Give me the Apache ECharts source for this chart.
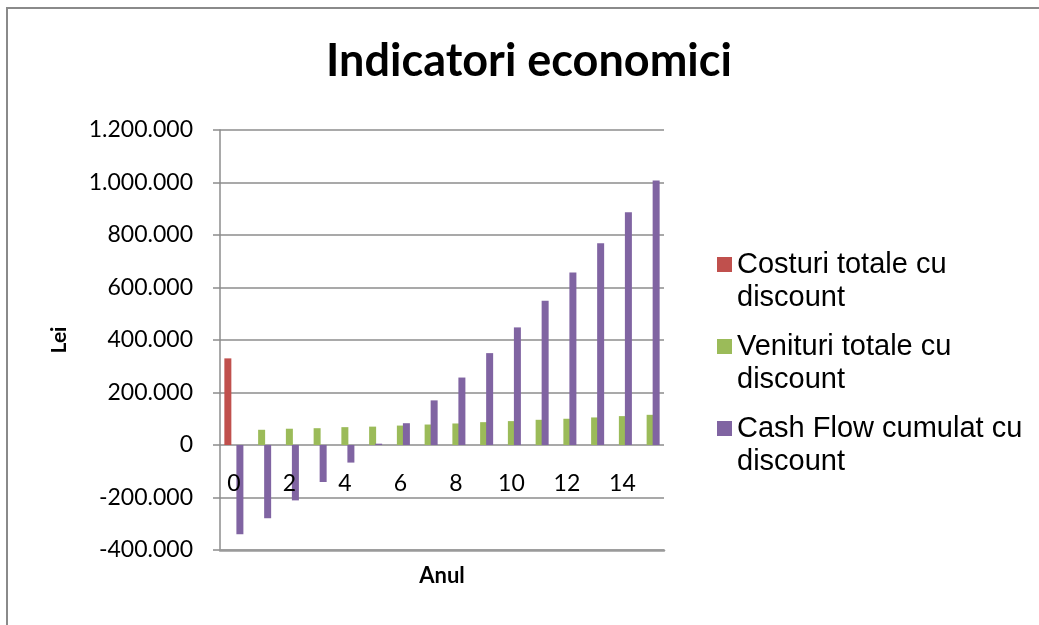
<!DOCTYPE html>
<html>
<head>
<meta charset="utf-8">
<script src="https://cdn.jsdelivr.net/npm/echarts@6/dist/echarts.min.js"></script>
<style>
html,body{margin:0;padding:0;background:#fff;}
#c{width:1039px;height:625px;}
</style>
</head>
<body>
<div id="c"></div>
<script>
const years = ['0','1','2','3','4','5','6','7','8','9','10','11','12','13','14','15'];
const costuri = [330000, 0, 0, 0, 0, 0, 0, 0, 0, 0, 0, 0, 0, 0, 0, 0];
const venituri = [0, 58000, 62000, 64000, 68000, 70000, 74000, 78000, 82000, 87000, 91000, 96000, 100000, 105000, 110000, 115000];
const cashflow = [-340000, -279000, -211000, -141000, -67000, 5000, 83000, 170000, 257000, 350000, 448000, 550000, 657000, 769000, 887000, 1008000];
const seriesNames = ['Costuri totale cu discount', 'Venituri totale cu discount', 'Cash Flow cumulat cu discount'];
const colors = ['#C0504D', '#9BBB59', '#8064A2'];

function fmt(v) {
  const neg = v < 0;
  let s = Math.abs(v).toString().replace(/\B(?=(\d{3})+(?!\d))/g, '.');
  return (neg ? '-' : '') + s;
}

const chart = echarts.init(document.getElementById('c'), null, {renderer: 'canvas'});
const gridColor = '#8c8c8c';
chart.setOption({
  animation: false,
  backgroundColor: '#fff',
  color: colors,
  title: {
    text: 'Indicatori economici',
    left: 529, top: 39, textAlign: 'center', padding: 0,
    textStyle: {fontFamily: 'Lato', fontWeight: 'bold', fontSize: 45, color: '#000'}
  },
  graphic: [{
    type: 'rect', silent: true, z: -1,
    shape: {x: 7, y: 8, width: 1045, height: 630},
    style: {fill: 'none', stroke: '#8a8a8a', lineWidth: 2}
  }],
  legend: {
    orient: 'vertical', left: 717, top: 215, padding: 0,
    itemWidth: 15, itemHeight: 15, itemGap: -17,
    icon: 'rect',
    formatter: function (name) { return '\n' + name.replace(' cu discount', ' cu\ndiscount'); },
    textStyle: {fontFamily: 'Liberation Sans', fontSize: 29, lineHeight: 33, color: '#000'}
  },
  grid: {left: 220, right: 375, top: 130, bottom: 75, outerBoundsMode: 'none', containLabel: false},
  xAxis: {
    type: 'category', data: years, z: 5,
    name: 'Anul', nameLocation: 'middle', nameGap: 15,
    nameTextStyle: {fontFamily: 'Lato', fontWeight: 'bold', fontSize: 22, color: '#000'},
    axisLine: {show: true, onZero: false, lineStyle: {color: '#9a9a9a', width: 2.5}},
    axisTick: {show: false},
    axisLabel: {interval: 1, margin: -78, fontFamily: 'Lato', fontSize: 23, color: '#000'},
    splitLine: {show: false}
  },
  yAxis: {
    type: 'value', min: -400000, max: 1200000, interval: 200000,
    name: 'Lei', nameLocation: 'middle', nameGap: 150, nameRotate: 90,
    nameTextStyle: {fontFamily: 'Lato', fontWeight: 'bold', fontSize: 21, color: '#000'},
    axisLine: {show: true, lineStyle: {color: gridColor, width: 1.5}},
    axisTick: {show: true, length: 7, lineStyle: {color: gridColor, width: 1.5}},
    axisLabel: {margin: 27, fontFamily: 'Lato', fontSize: 23, color: '#000', formatter: fmt},
    splitLine: {show: true, lineStyle: {color: gridColor, width: 1.5}}
  },
  series: [
    {name: seriesNames[0], type: 'bar', data: costuri, barWidth: 7, barGap: '-14%', itemStyle: {color: colors[0]}},
    {name: seriesNames[1], type: 'bar', data: venituri, barWidth: 7, barGap: '-14%', itemStyle: {color: colors[1]}},
    {name: seriesNames[2], type: 'bar', data: cashflow, barWidth: 7, barGap: '-14%', itemStyle: {color: colors[2]}}
  ]
});
</script>
</body>
</html>
